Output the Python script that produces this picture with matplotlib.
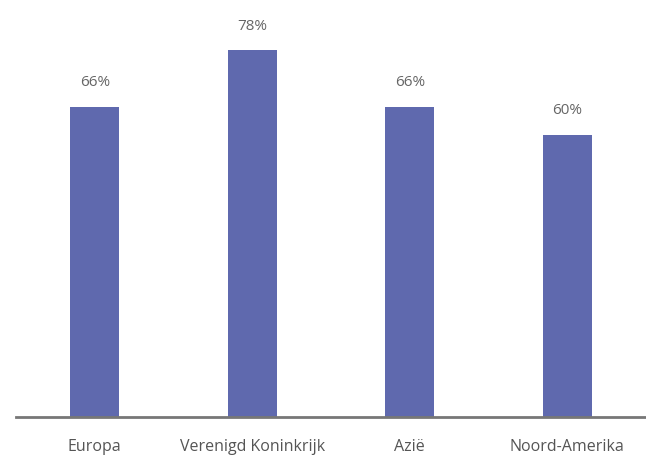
import matplotlib
matplotlib.use("Agg")
import matplotlib.pyplot as plt

categories = ["Europa", "Verenigd Koninkrijk", "Azië", "Noord-Amerika"]
values = [66, 78, 66, 60]
labels = ["66%", "78%", "66%", "60%"]

plt.rcParams['font.family'] = ['Open Sans', 'DejaVu Sans']

fig = plt.figure(figsize=(6.46, 4.57), dpi=100)
ax = fig.add_axes([16/646, 40/457, 1 - 16/646, 1 - 40/457])
x = range(len(categories))
bars = ax.bar(x, values, width=0.31, color="#5f69ae", zorder=2)
ax.set_xlim(-0.5, 3.5)
ax.set_ylim(0, 88.7)
for xi, v, lab in zip(x, values, labels):
    ax.annotate(lab, (xi, v), xytext=(0, 12), textcoords="offset points",
                ha="center", va="bottom", fontsize=11, color="#666666")
for s in ["top", "right", "left"]:
    ax.spines[s].set_visible(False)
ax.spines["bottom"].set_color("#777777")
ax.spines["bottom"].set_linewidth(2)
ax.set_yticks([])
ax.set_xticks(list(x))
ax.set_xticklabels(categories, fontsize=11.5, color="#555555")
ax.tick_params(axis="x", length=0, pad=16)
fig.savefig("out.png", dpi=100)
